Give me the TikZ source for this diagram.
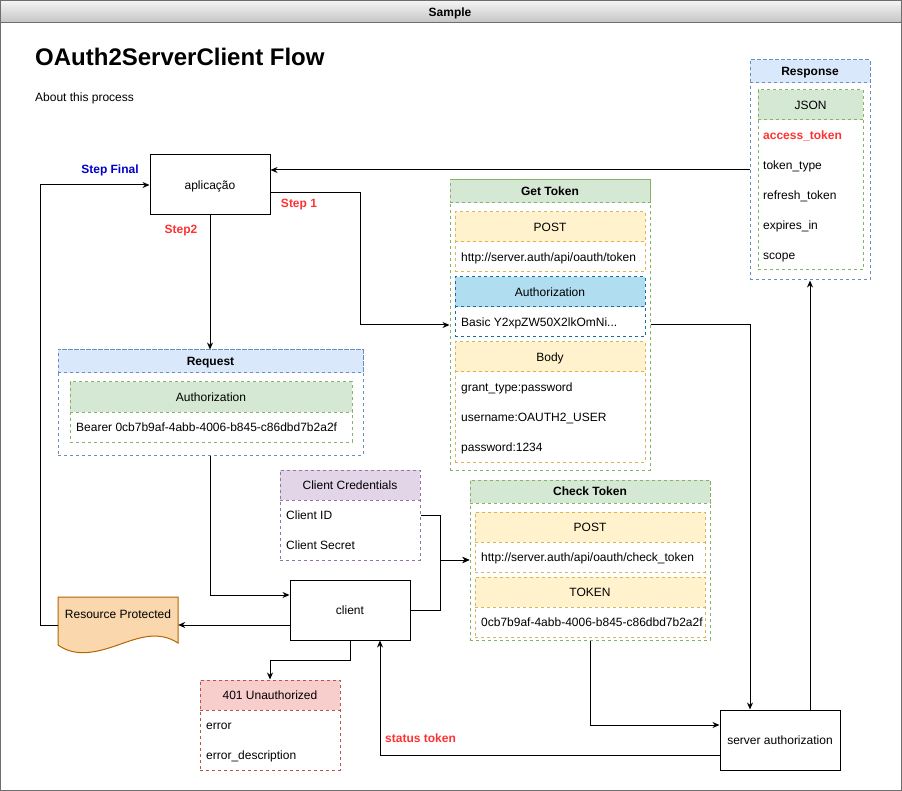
\documentclass[tikz,border=0pt]{standalone}
\usepackage{fontspec}
\setmainfont{Liberation Sans}
\usepackage{xcolor}
\usepackage{tikz}
\usetikzlibrary{arrows.meta, positioning, calc}
\definecolor{lnblue}{HTML}{6C8EBF}
\definecolor{hdblue}{HTML}{DAE8FC}
\definecolor{lngreen}{HTML}{82B366}
\definecolor{hdgreen}{HTML}{D5E8D4}
\definecolor{lnyellow}{HTML}{D6B656}
\definecolor{hdyellow}{HTML}{FFF2CC}
\definecolor{lnpurple}{HTML}{9673A6}
\definecolor{hdpurple}{HTML}{E1D5E7}
\definecolor{lnred}{HTML}{B85450}
\definecolor{hdred}{HTML}{F8CECC}
\definecolor{lnsky}{HTML}{10739E}
\definecolor{hdsky}{HTML}{B1DDF0}
\definecolor{lnorange}{HTML}{B46504}
\definecolor{hdorange}{HTML}{FAD7AC}
\definecolor{stepred}{HTML}{FF3333}
\definecolor{stepblue}{HTML}{0000CC}
\definecolor{frame}{HTML}{6E6E6E}
\definecolor{bartop}{HTML}{F4F4F4}
\definecolor{barbot}{HTML}{C4C4C4}
\tikzset{
  txt/.style={font=\fontsize{12}{14}\selectfont, inner sep=0pt,
    text height=8.6pt, text depth=0pt},
  boldtxt/.style={font=\fontsize{12}{14}\selectfont\bfseries, inner sep=0pt,
    text height=8.6pt, text depth=0pt},
  plainbox/.style={rectangle, draw=black, fill=white, line width=1pt,
    minimum width=120pt, minimum height=60pt, txt},
  lane/.style={rectangle, line width=1pt, inner sep=0pt,
    dash pattern=on 3pt off 3pt, fill=white},
  bluelane/.style={lane, draw=lnblue},
  greenlane/.style={lane, draw=lngreen},
  yellowlane/.style={lane, draw=lnyellow},
  skylane/.style={lane, draw=lnsky},
  purplelane/.style={lane, draw=lnpurple},
  redlane/.style={lane, draw=lnred},
  bluehead/.style={bluelane, fill=hdblue, boldtxt, minimum height=23pt},
  greenhead/.style={greenlane, fill=hdgreen, boldtxt, minimum height=23pt},
  greensub/.style={greenlane, fill=hdgreen, txt, minimum height=30pt},
  yellowsub/.style={yellowlane, fill=hdyellow, txt, minimum height=30pt},
  skysub/.style={skylane, fill=hdsky, txt, minimum height=30pt},
  purplesub/.style={purplelane, fill=hdpurple, txt, minimum height=30pt},
  redsub/.style={redlane, fill=hdred, txt, minimum height=30pt},
  row/.style={txt, anchor=west},
  steplabel/.style={boldtxt, text=stepred},
  arrow/.style={-{Stealth[length=7pt,width=6pt]}, line width=1pt, color=black},
  line/.style={line width=1pt, color=black}
}

\begin{document}
\begin{tikzpicture}[x=1pt, y=-1pt]
  \useasboundingbox (0,0) rectangle (902,791);

  % Window
  \fill[white] (0,0) rectangle (902,791);
  \shade[top color=bartop, bottom color=barbot] (0.5,0.5) rectangle (901,23);
  \draw[frame, line width=1pt] (0.5,0.5) rectangle (901,790);
  \draw[frame, line width=1pt] (0.5,23) -- (901,23);
  \node[boldtxt] (wintitle) at (450,12) {Sample};
  \node[anchor=base west, inner sep=0pt, font=\fontsize{24}{28}\selectfont\bfseries] (title) at (35,66) {OAuth2ServerClient Flow};
  \node[row] (about) at (35,97) {About this process};

  % Nodes
  \node[plainbox] (app) at (210,185) {aplicação};
  \node[plainbox] (client) at (350,610) {client};
  \node[plainbox] (server) at (780,740) {server authorization};

  % Response
  \node[bluelane, minimum width=120pt, minimum height=220pt] (resp) at (810,170) {};
  \node[bluehead, minimum width=120pt] (resphd) at (810,71.5) {Response};
  \node[greenlane, minimum width=105pt, minimum height=180pt] (json) at (810.5,180) {};
  \node[greensub, minimum width=105pt] (jsonhd) at (810.5,105) {JSON};
  \node[row, font=\fontsize{12}{14}\selectfont\bfseries, text=stepred] (acc) at (763,135) {access\_token};
  \node[row] (ttype) at (763,165) {token\_type};
  \node[row] (rtok) at (763,195) {refresh\_token};
  \node[row] (expin) at (763,225) {expires\_in};
  \node[row] (scope) at (763,255) {scope};

  % Get Token
  \node[greenlane, minimum width=200pt, minimum height=290pt] (gettok) at (550,325) {};
  \node[greenhead, minimum width=200pt] (gettokhd) at (550,191.5) {Get Token};
  \node[yellowlane, minimum width=190pt, minimum height=60pt] (gtpost) at (550,242) {};
  \node[yellowsub, minimum width=190pt] (gtposthd) at (550,227) {POST};
  \node[row] (gturl) at (461,257) {http://server.auth/api/oauth/token};
  \node[skylane, minimum width=190pt, minimum height=60pt] (gtauth) at (550,307) {};
  \node[skysub, minimum width=190pt] (gtauthhd) at (550,292) {Authorization};
  \node[row] (gtbasic) at (461,322) {Basic Y2xpZW50X2lkOmNi...};
  \node[yellowlane, minimum width=190pt, minimum height=120pt] (gtbody) at (550,402) {};
  \node[yellowsub, minimum width=190pt] (gtbodyhd) at (550,357) {Body};
  \node[row] (grant) at (461,387) {grant\_type:password};
  \node[row] (uname) at (461,417) {username:OAUTH2\_USER};
  \node[row] (pword) at (461,447) {password:1234};

  % Request
  \node[bluelane, minimum width=305pt, minimum height=105pt] (req) at (210.5,402.5) {};
  \node[bluehead, minimum width=305pt] (reqhd) at (210.5,361.5) {Request};
  \node[greenlane, minimum width=282pt, minimum height=60pt] (reqauth) at (211,412) {};
  \node[greensub, minimum width=282pt] (reqauthhd) at (211,397) {Authorization};
  \node[row] (bearer) at (76,427) {Bearer 0cb7b9af-4abb-4006-b845-c86dbd7b2a2f};

  % Client Credentials
  \node[purplelane, minimum width=140pt, minimum height=90pt] (cred) at (350,515) {};
  \node[purplesub, minimum width=140pt] (credhd) at (350,485) {Client Credentials};
  \node[row] (cid) at (286,515) {Client ID};
  \node[row] (csecret) at (286,545) {Client Secret};

  % Check Token
  \node[greenlane, minimum width=240pt, minimum height=160pt] (chktok) at (590,560) {};
  \node[greenhead, minimum width=240pt] (chktokhd) at (590,491.5) {Check Token};
  \node[yellowlane, minimum width=230pt, minimum height=60pt] (ctpost) at (590,542) {};
  \node[yellowsub, minimum width=230pt] (ctposthd) at (590,527) {POST};
  \node[row] (cturl) at (481,557) {http://server.auth/api/oauth/check\_token};
  \node[yellowlane, minimum width=230pt, minimum height=60pt] (cttoken) at (590,607) {};
  \node[yellowsub, minimum width=230pt] (cttokenhd) at (590,592) {TOKEN};
  \begin{scope}
    \clip (476,608) rectangle (703,636);
    \node[row] (ctvalue) at (481,622) {0cb7b9af-4abb-4006-b845-c86dbd7b2a2f};
  \end{scope}

  % 401 Unauthorized
  \node[redlane, minimum width=140pt, minimum height=90pt] (unauth) at (270,725) {};
  \node[redsub, minimum width=140pt] (unauthhd) at (270,695) {401 Unauthorized};
  \node[row] (err) at (206,725) {error};
  \node[row] (errdesc) at (206,755) {error\_description};

  % Resource Protected (document shape)
  \draw[draw=lnorange, fill=hdorange, line width=1pt]
    (58,597) -- (178,597) -- (178,643)
    .. controls (158,630) and (138,638) .. (118,645)
    .. controls (98,652) and (76,658) .. (58,645) -- cycle;
  \node[txt, minimum width=120pt] (resource) at (118,614) {Resource Protected};

  % Step labels
  \node[boldtxt, text=stepblue] (stepfinal) at (110,169) {Step Final};
  \node[steplabel] (step1) at (299,203) {Step 1};
  \node[steplabel] (step2) at (181,229) {Step2};

  % Connectors
  \draw[arrow] ([yshift=-8pt]app.east) -- ++(90,0) |- (gettok.west);
  \draw[arrow] (app.south) -- (app.south |- req.north);
  \draw[arrow] (resp.west) -- (app.east |- resp.west);
  \draw[arrow] (req.south) |- ([yshift=15pt]client.west);
  \draw[arrow] ([yshift=-15pt]client.west) -- (resource.east |- 0,625);
  \draw[arrow] (resource.west |- 0,625) -- ++(-17,0) |- (app.west);
  \draw[arrow] (cred.east |- cid) -- ++(20,0) |- (chktok.west);
  \draw[arrow] (client.east) -- ++(30,0) |- (chktok.west);
  \draw[arrow] (gettok.east) -| ([xshift=-30pt]server.north);
  \draw[arrow] (chktok.south) |- ([yshift=15pt]server.west);
  \draw[arrow] ([xshift=30pt]server.north) -- (resp.south);
  \draw[arrow] ([yshift=-15pt]server.west) -| ([xshift=30pt]client.south);
  \draw[arrow] (client.south) -- ++(0,20) -| (unauth.north);
  \node[steplabel, anchor=west] (status) at (385,738) {status token};
\end{tikzpicture}
\end{document}
